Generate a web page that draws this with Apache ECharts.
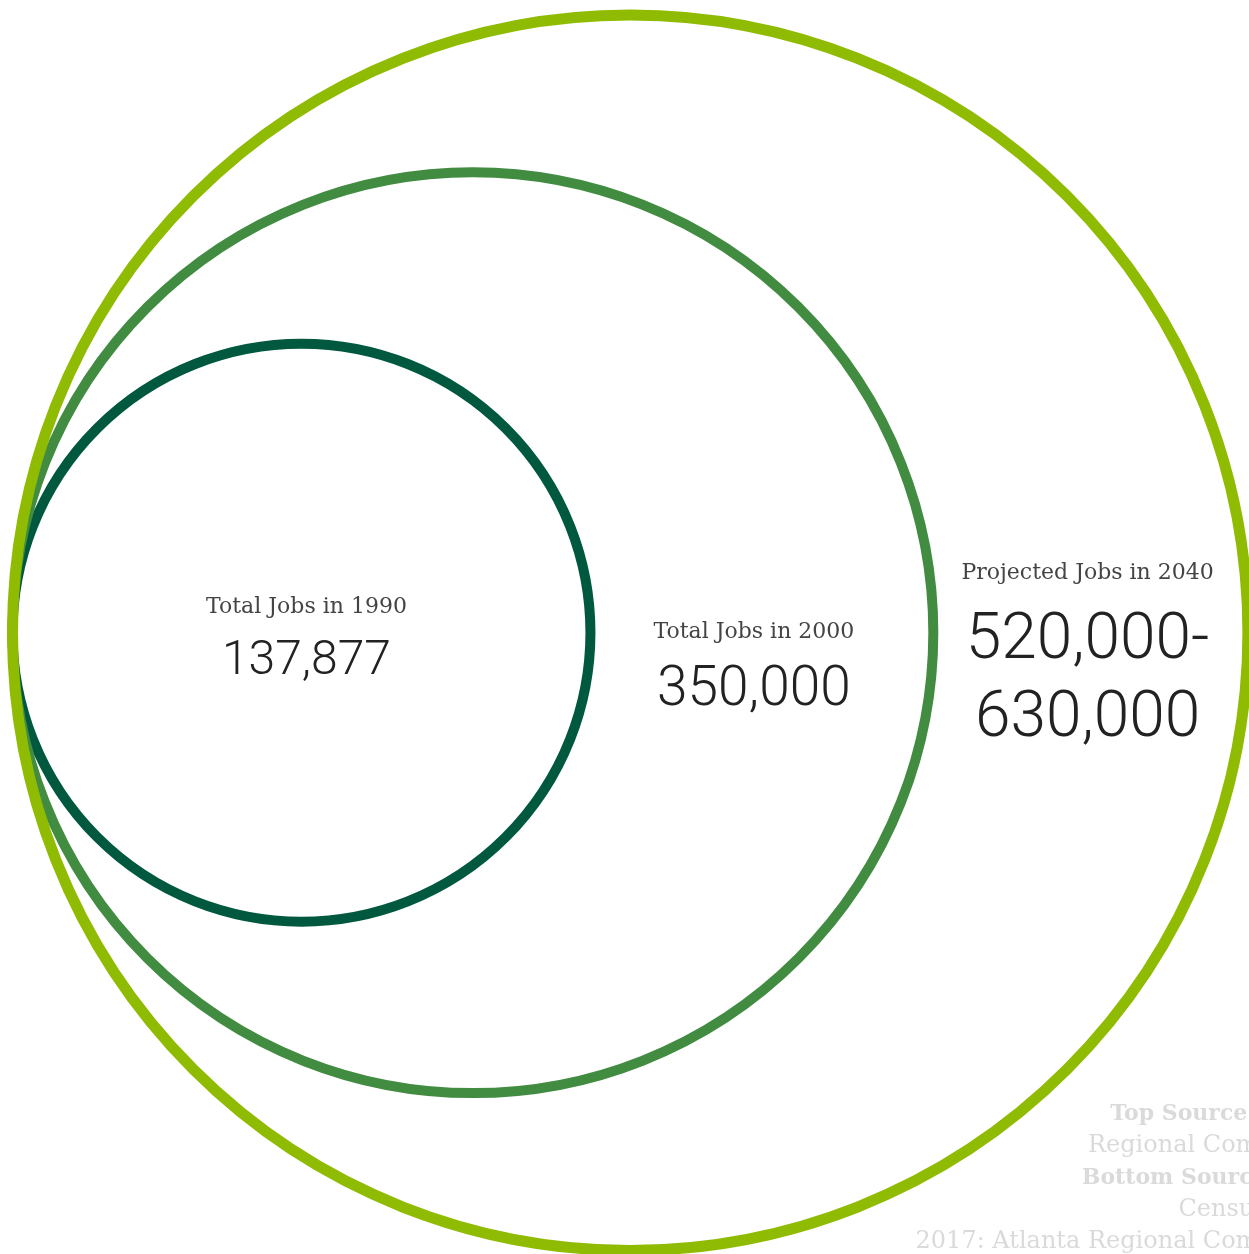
<!DOCTYPE html>
<html>
<head>
<meta charset="utf-8">
<script src="https://cdn.jsdelivr.net/npm/echarts@6/dist/echarts.min.js"></script>
<style>
  html, body { margin: 0; padding: 0; background: #ffffff; }
  #chart { width: 1249px; height: 1254px; }
</style>
</head>
<body>
<div id="chart"></div>
<script>
// Job totals for each year; circle radius scales with the square root of the (upper) total
const years = ['1990', '2000', '2040'];
const titles = ['Total Jobs in 1990', 'Total Jobs in 2000', 'Projected Jobs in 2040'];
const jobsLow = [137877, 350000, 520000];
const jobsHigh = [137877, 350000, 630000];
const valueLabels = ['137,877', '350,000', '520,000-\n630,000'];

// Source note (bold lead-in, regular remainder) per line
const sourceLeads = ['Top Source:', '', 'Bottom Source:', '', ''];
const sourceRests = [' Atlanta', 'Regional Commission', ' 1990,', 'Census, 2000-', '2017: Atlanta Regional Commission'];

// ---- layout / style ----
const W = 1249, H = 1254;
const TANGENT_X = 12.5;      // shared left tangent point of all rings
const CENTER_Y = 632.7;
const OUTER_R_PX = 617.7;    // pixel radius of the largest ring
const ringColors = ['#00583e', '#418c40', '#8fbc02'];
const ringWidths = [10, 10, 11];
const titleFont = { fontFamily: 'DejaVu Serif', fontSize: 22, fill: '#444444' };
const valueFont = { fontFamily: 'Roboto', fontWeight: 300, fill: '#222222' };
const valueSizes = [48, 55, 64];
const valueLineHeight = 78;
// label placement (px): vertical offsets from the ring centre line, horizontal nudges
const titleDy = [-25, 0, -59];
const valueDy = [29, 59, 9];
const labelDx = [5, -8, -3];
const sourceFontSize = 24;
const sourceBoldSize = 22;
const sourceColor = '#dadada';

const rootR = jobsHigh.map(v => Math.sqrt(v));
const pxPerUnit = OUTER_R_PX / Math.max.apply(null, rootR);

// each ring sits with its left edge on x = 0, so its centre is at x = r
const ringData = rootR.map((r, i) => [r, 0, i]).reverse();

function renderRing(params, api) {
  const i = api.value(2);
  const r = api.value(0);
  const c = api.coord([r, 0]);
  const rp = api.size([r, 0])[0];
  const rightEdge = api.coord([2 * r, 0])[0];
  let labelX;
  if (i === 0) {
    labelX = c[0];
  } else {
    // centre the label in the crescent between this ring and the previous one
    const prevRight = api.coord([2 * rootR[i - 1], 0])[0];
    labelX = (prevRight + rightEdge) / 2;
  }
  labelX += labelDx[i];
  const children = [{
    type: 'circle',
    shape: { cx: c[0], cy: c[1], r: rp },
    style: { fill: 'none', stroke: ringColors[i], lineWidth: ringWidths[i] },
    z2: i
  }, {
    type: 'text',
    x: labelX,
    y: c[1] + titleDy[i],
    style: Object.assign({
      text: titles[i], align: 'center', verticalAlign: 'middle'
    }, titleFont),
    z2: 10
  }];
  valueLabels[i].split('\n').forEach((line, k) => {
    children.push({
      type: 'text',
      x: labelX,
      y: c[1] + valueDy[i] + k * valueLineHeight,
      style: Object.assign({
        text: line, align: 'center', verticalAlign: 'middle', fontSize: valueSizes[i]
      }, valueFont),
      z2: 10
    });
  });
  return { type: 'group', children: children };
}

// right-aligned source note in the lower right corner
const sourceLines = sourceRests.map((rest, k) => ({
  type: 'text',
  x: 1351,
  y: 1114 + k * 32,
  style: {
    text: (sourceLeads[k] ? '{b|' + sourceLeads[k] + '}' : '') + '{r|' + rest + '}',
    align: 'right',
    verticalAlign: 'middle',
    rich: {
      b: { fontFamily: 'DejaVu Serif', fontWeight: 'bold', fontSize: sourceBoldSize, fill: sourceColor },
      r: { fontFamily: 'DejaVu Serif', fontSize: sourceFontSize, fill: sourceColor }
    }
  },
  z: 1
}));

const chart = echarts.init(document.getElementById('chart'), null, { renderer: 'canvas' });
chart.setOption({
  animation: false,
  backgroundColor: '#ffffff',
  grid: { left: 0, right: 0, top: 0, bottom: 0 },
  xAxis: {
    type: 'value', show: false,
    min: -TANGENT_X / pxPerUnit,
    max: (W - TANGENT_X) / pxPerUnit
  },
  yAxis: {
    type: 'value', show: false,
    min: -(H - CENTER_Y) / pxPerUnit,
    max: CENTER_Y / pxPerUnit
  },
  graphic: sourceLines,
  series: [{
    type: 'custom',
    coordinateSystem: 'cartesian2d',
    renderItem: renderRing,
    clip: false,
    silent: true,
    data: ringData,
    z: 2
  }]
});
</script>
</body>
</html>
